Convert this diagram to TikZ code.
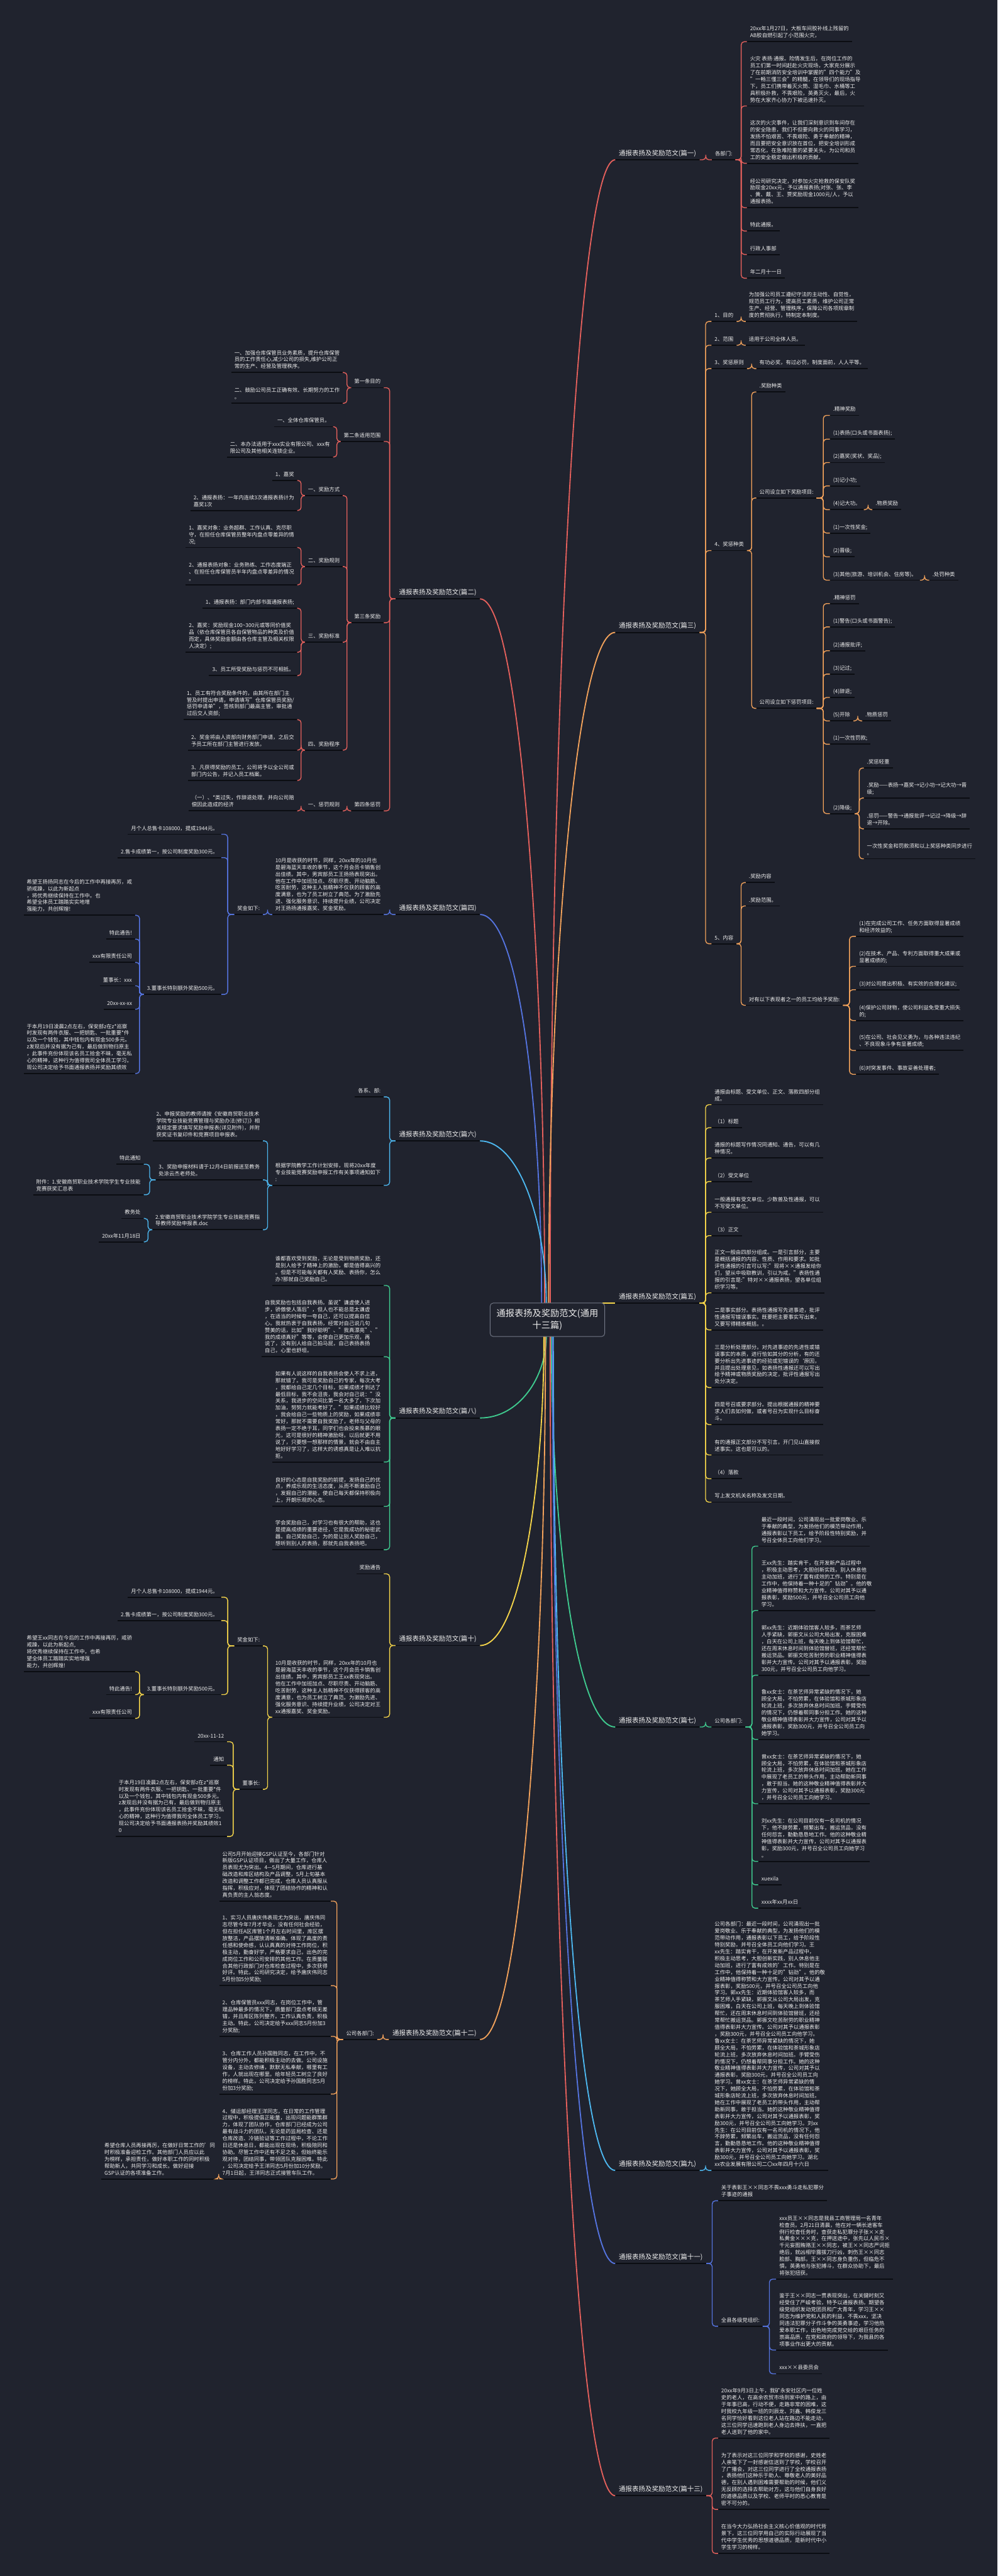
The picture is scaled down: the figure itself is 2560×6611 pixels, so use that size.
\documentclass[tikz,border=0pt]{standalone}
\usepackage{fontspec}
\setmainfont{Noto Sans CJK SC}
\usetikzlibrary{calc}
\definecolor{bg}{HTML}{20232E}
\definecolor{ulc}{HTML}{0B0D12}
\definecolor{cbd}{HTML}{737887}
\definecolor{cred}{HTML}{E4605C}
\definecolor{cora}{HTML}{F2A25B}
\definecolor{cyel}{HTML}{F5D54A}
\definecolor{cgrn}{HTML}{3FCB8F}
\definecolor{ccyn}{HTML}{4DB8F0}
\definecolor{cblu}{HTML}{5574E0}
\definecolor{txt}{HTML}{EEEEEE}
\newcommand\rconn[3]{\draw[#1,conn] (#2.south east) -| ($(#2.south east)!.5!(#3.south west)$) |- (#3.south west);}
\newcommand\lconn[3]{\draw[#1,conn] (#2.south west) -| ($(#2.south west)!.5!(#3.south east)$) |- (#3.south east);}
\begin{document}
\begin{tikzpicture}[x=1pt,y=-1pt,
  ulline/.style={draw=ulc,line width=3pt},
  uline/.style={append after command={\pgfextra{\let\tmpn\tikzlastnode}(\tmpn.south west) edge[ulline] (\tmpn.south east)}},
  tx/.style={text=txt,font=\fontsize{13.5}{17.6}\selectfont,align=left,inner xsep=8pt,inner ysep=5pt,execute at begin node=\strut,execute at end node=\strut,uline},
  rnode/.style={tx,anchor=south west},
  lnode/.style={tx,anchor=south east},
  ttl/.style={text=txt,font=\fontsize{17}{22}\selectfont,inner xsep=9pt,inner ysep=4pt,execute at begin node=\strut,execute at end node=\strut,uline},
  rtit/.style={ttl,anchor=south west},
  ltit/.style={ttl,anchor=south east},
  conn/.style={line width=2.2pt,rounded corners=8pt},
  mainbr/.style={line width=3pt},
]
\fill[bg] (0,0) rectangle (2560,6611);
\useasboundingbox (0,0) rectangle (2560,6611);

% ---------- titles ----------
\node[rtit] (T1) at (1579,410) {通报表扬及奖励范文(篇一)};
\node[rtit] (T3) at (1579,1623) {通报表扬及奖励范文(篇三)};
\node[rtit] (T5) at (1579,3344) {通报表扬及奖励范文(篇五)};
\node[rtit] (T7) at (1579,4432) {通报表扬及奖励范文(篇七)};
\node[rtit] (T9) at (1579,5570) {通报表扬及奖励范文(篇九)};
\node[rtit] (T11) at (1579,5809) {通报表扬及奖励范文(篇十一)};
\node[rtit] (T13) at (1579,6405) {通报表扬及奖励范文(篇十三)};
\node[ltit] (T2) at (1232,1537) {通报表扬及奖励范文(篇二)};
\node[ltit] (T4) at (1232,2347) {通报表扬及奖励范文(篇四)};
\node[ltit] (T6) at (1232,2928) {通报表扬及奖励范文(篇六)};
\node[ltit] (T8) at (1232,3639) {通报表扬及奖励范文(篇八)};
\node[ltit] (T10) at (1232,4223) {通报表扬及奖励范文(篇十)};
\node[ltit] (T12) at (1232,5234) {通报表扬及奖励范文(篇十二)};

% ---------- main branches ----------
\draw[cred,mainbr] (1412,3344) .. controls (1412,1877) and (1479,410) .. (T1.south west);
\draw[cora,mainbr] (1408,3344) .. controls (1408,2483) and (1479,1623) .. (T3.south west);
\draw[cyel,mainbr] (1546,3344) -- (T5.south west);
\draw[cgrn,mainbr] (1415,3430) .. controls (1415,3931) and (1479,4432) .. (T7.south west);
\draw[ccyn,mainbr] (1420,3430) .. controls (1420,4500) and (1479,5570) .. (T9.south west);
\draw[cblu,mainbr] (1418,3430) .. controls (1418,4620) and (1479,5809) .. (T11.south west);
\draw[cred,mainbr] (1412,3430) .. controls (1412,4918) and (1479,6405) .. (T13.south west);
\draw[cred,mainbr] (T2.south east) .. controls (1332,1537) and (1398,2440) .. (1398,3344);
\draw[cblu,mainbr] (T4.south east) .. controls (1332,2347) and (1390,2845) .. (1390,3344);
\draw[ccyn,mainbr] (T6.south east) .. controls (1332,2928) and (1402,3136) .. (1402,3344);
\draw[cgrn,mainbr] (T8.south east) .. controls (1332,3639) and (1402,3534) .. (1402,3430);
\draw[cyel,mainbr] (T10.south east) .. controls (1332,4223) and (1396,3826) .. (1396,3430);
\draw[cora,mainbr] (T12.south east) .. controls (1332,5234) and (1400,4332) .. (1400,3430);

\node[draw=cbd,line width=1.5pt,rounded corners=8pt,fill=bg,minimum width=294pt,minimum height=86pt,align=center,text=txt,font=\fontsize{23}{30}\selectfont,inner sep=0pt] (C) at (1405,3387) {通报表扬及奖励范文(通用\\十三篇)};

% ---------- 篇一 ----------
\node[rnode] (A) at (1827,410) {各部门:};
\node[rnode] (A1) at (1917,107) {20xx年1月27日，大板车间胶补线上残留的\\AB胶自燃引起了小范围火灾，};
\node[rnode] (A2) at (1917,272) {火灾 表扬 通报。险情发生后，在岗位工作的\\员工们第一时间赶赴火灾现场，大家充分展示\\了在前期消防安全培训中掌握的"四个能力"及\\"一畅三懂三会"的精髓，在领导们的现场指导\\下，员工们携带着灭火筒、湿毛巾、水桶等工\\具积极扑救，不畏艰险，英勇灭火，最后，火\\势在大家齐心协力下被迅速扑灭。};
\node[rnode] (A3) at (1917,419) {这次的火灾事件，让我们深刻意识到车间存在\\的安全隐患，我们不但要向救火的同事学习，\\发扬不怕艰苦、不畏艰险、勇于奉献的精神，\\而且要把安全意识放在首位，把安全培训形成\\常态化，在急难险重的紧要关头，为公司和员\\工的安全稳定做出积极的贡献。};
\node[rnode] (A4) at (1917,533) {经公司研究决定，对参加火灾抢救的保安队奖\\励现金20xx元，予以通报表扬;对张、张、李\\、黄、戴、王、贾奖励现金1000元/人，予以\\通报表扬。};
\node[rnode] (A5) at (1917,593) {特此通报。};
\node[rnode] (A6) at (1917,653) {行政人事部};
\node[rnode] (A7) at (1917,714) {年二月十一日};
\rconn{cred}{T1}{A}
\foreach \n in {A1,A2,A3,A4,A5,A6,A7}{\rconn{cred}{A}{\n}}

% ---------- 篇三 ----------
\node[rnode] (B1) at (1826,825) {1、目的};
\node[rnode] (B1a) at (1914,825) {为加强公司员工遵纪守法的主动性、自觉性，\\规范员工行为，提高员工素质，维护公司正常\\生产、经营、管理秩序，保障公司各项规章制\\度的贯彻执行，特制定本制度。};
\node[rnode] (B2) at (1826,886) {2、范围};
\node[rnode] (B2a) at (1914,886) {适用于公司全体人员。};
\node[rnode] (B3) at (1826,946) {3、奖惩原则};
\node[rnode] (B3a) at (1941,946) {有功必奖，有过必罚，制度面前，人人平等。};
\node[rnode] (B4) at (1826,1413) {4、奖惩种类};
\node[rnode] (B41) at (1941,1006) {.奖励种类};
\node[rnode] (B42) at (1941,1278) {公司设立如下奖励项目:};
\node[rnode] (B43) at (1941,1818) {公司设立如下惩罚项目:};
\node[rnode] (B421) at (2130,1066) {.精神奖励};
\node[rnode] (B422) at (2130,1127) {(1)表扬(口头或书面表扬);};
\node[rnode] (B423) at (2130,1187) {(2)嘉奖(奖状、奖品);};
\node[rnode] (B424) at (2130,1247) {(3)记小功;};
\node[rnode] (B425) at (2130,1308) {(4)记大功。};
\node[rnode] (B425a) at (2239,1308) {.物质奖励};
\node[rnode] (B426) at (2130,1368) {(1)一次性奖金;};
\node[rnode] (B427) at (2130,1429) {(2)晋级;};
\node[rnode] (B428) at (2130,1489) {(3)其他(旅游、培训机会、住房等)。};
\node[rnode] (B428a) at (2385,1489) {.处罚种类};
\node[rnode] (B431) at (2130,1549) {.精神惩罚};
\node[rnode] (B432) at (2130,1609) {(1)警告(口头或书面警告);};
\node[rnode] (B433) at (2130,1670) {(2)通报批评;};
\node[rnode] (B434) at (2130,1730) {(3)记过;};
\node[rnode] (B435) at (2130,1790) {(4)辞退;};
\node[rnode] (B436) at (2130,1850) {(5)开除};
\node[rnode] (B436a) at (2213,1850) {.物质惩罚};
\node[rnode] (B437) at (2130,1910) {(1)一次性罚款;};
\node[rnode] (B438) at (2130,2088) {(2)降级;};
\node[rnode] (B4381) at (2217,1971) {.奖惩轻重};
\node[rnode] (B4382) at (2217,2048) {.奖励——表扬→嘉奖→记小功→记大功→晋\\级;};
\node[rnode] (B4383) at (2217,2127) {.惩罚——警告→通报批评→记过→降级→辞\\退→开除。};
\node[rnode] (B4384) at (2217,2204) {一次性奖金和罚款须和以上奖惩种类同步进行\\。};
\node[rnode] (B5) at (1826,2422) {5、内容};
\node[rnode] (B51) at (1914,2265) {.奖励内容};
\node[rnode] (B52) at (1914,2325) {.奖励范围。};
\node[rnode] (B53) at (1914,2580) {对有以下表现者之一的员工均给予奖励:};
\node[rnode] (B531) at (2197,2403) {(1)在完成公司工作、任务方面取得显著成绩\\和经济效益的;};
\node[rnode] (B532) at (2197,2480) {(2)在技术、产品、专利方面取得重大成果或\\显著成绩的;};
\node[rnode] (B533) at (2197,2540) {(3)对公司提出积极、有实效的合理化建议;};
\node[rnode] (B534) at (2197,2619) {(4)保护公司财物，使公司利益免受重大损失\\的;};
\node[rnode] (B535) at (2197,2696) {(5)在公司、社会见义勇为，与各种违法违纪\\、不良现象斗争有显著成绩;};
\node[rnode] (B536) at (2197,2757) {(6)对突发事件、事故妥善处理者;};
\foreach \n in {B1,B2,B3,B4,B5}{\rconn{cora}{T3}{\n}}
\rconn{cora}{B1}{B1a}\rconn{cora}{B2}{B2a}\rconn{cora}{B3}{B3a}
\foreach \n in {B41,B42,B43}{\rconn{cora}{B4}{\n}}
\foreach \n in {B421,B422,B423,B424,B425,B426,B427,B428}{\rconn{cora}{B42}{\n}}
\rconn{cora}{B425}{B425a}\rconn{cora}{B428}{B428a}
\foreach \n in {B431,B432,B433,B434,B435,B436,B437,B438}{\rconn{cora}{B43}{\n}}
\rconn{cora}{B436}{B436a}
\foreach \n in {B4381,B4382,B4383,B4384}{\rconn{cora}{B438}{\n}}
\foreach \n in {B51,B52,B53}{\rconn{cora}{B5}{\n}}
\foreach \n in {B531,B532,B533,B534,B535,B536}{\rconn{cora}{B53}{\n}}

% ---------- 篇五 ----------
\node[rnode] (E1) at (1826,2835) {通报由标题、受文单位、正文、落款四部分组\\成。};
\node[rnode] (E2) at (1826,2894) {（1）标题};
\node[rnode] (E3) at (1826,2972) {通报的标题写作情况同通知、通告，可以有几\\种情况。};
\node[rnode] (E4) at (1826,3032) {（2）受文单位};
\node[rnode] (E5) at (1826,3111) {一般通报有受文单位。少数普及性通报，可以\\不写受文单位。};
\node[rnode] (E6) at (1826,3171) {（3）正文};
\node[rnode] (E7) at (1826,3318) {正文一般由四部分组成。一是引言部分，主要\\是概括通报的内容、性质、作用和要求。如批\\评性通报的引言可以写:"现将××通报发给你\\们，望从中吸取教训，引以为戒。"表扬性通\\报的引言是:"特对××通报表扬，望各单位组\\织学习等。};
\node[rnode] (E8) at (1826,3413) {二是事实部分。表扬性通报写先进事迹，批评\\性通报写错误事实。既要把主要事实写出来，\\又要写得精练概括。。};
\node[rnode] (E9) at (1826,3561) {三是分析处理部分。对先进事迹的先进性或错\\误事实的本质，进行恰如其分的分析，有的还\\要分析出先进事迹的经验或犯错误的`原因，\\并且提出处理意见，如表扬性通报还可以写出\\给予精神或物质奖励的决定，批评性通报写出\\处分决定。};
\node[rnode] (E10) at (1826,3656) {四是号召或要求部分。提出根据通报的精神要\\求人们去如何做，或者号召为实现什么目标奋\\斗。};
\node[rnode] (E11) at (1826,3734) {有的通报正文部分不写引言。开门见山直接叙\\述事实。这也是可以的。};
\node[rnode] (E12) at (1826,3795) {（4）落款};
\node[rnode] (E13) at (1826,3855) {写上发文机关名称及发文日期。};
\foreach \n in {E1,E2,E3,E4,E5,E6,E7,E8,E9,E10,E11,E12,E13}{\rconn{cyel}{T5}{\n}}

% ---------- 篇七 ----------
\node[rnode] (G) at (1826,4432) {公司各部门:};
\node[rnode] (G1) at (1946,3968) {最近一段时间，公司涌现出一批爱岗敬业、乐\\于奉献的典型，为发扬他们的模范带动作用，\\通报表彰以下员工，给予阶段性特别奖励，并\\号召全体员工向他们学习。};
\node[rnode] (G2) at (1946,4133) {王xx先生：踏实肯干，在开发新产品过程中\\，积极主动思考，大胆创新实践，别人休息他\\主动加班，进行了富有成效的工作。特别是在\\工作中，他保持着一种十足的"钻劲"。他的敬\\业精神值得称赞和大力宣传。公司对其予以通\\报表彰，奖励500元，并号召全公司员工向他\\学习。};
\node[rnode] (G3) at (1946,4299) {郭xx先生：近期体验馆客人较多，而茶艺师\\人手紧缺，郭振文从公司大局出发，克服困难\\，白天在公司上班，每天晚上到体验馆帮忙，\\还在周末休息时间到体验馆替班，还经常帮忙\\搬运货品。郭振文吃苦耐劳的职业精神值得表\\彰并大力宣传。公司对其予以通报表彰，奖励\\300元，并号召全公司员工向他学习。};
\node[rnode] (G4) at (1946,4464) {鲁xx女士：在茶艺师异常紧缺的情况下，她\\顾全大局，不怕劳累，在体验馆和茶城形象店\\轮流上班，多次放弃休息时间加班。手臂受伤\\的情况下，仍想着帮同事分担工作。她的这种\\敬业精神值得表彰并大力宣传，公司对其予以\\通报表彰，奖励300元，并号召全公司员工向\\她学习。};
\node[rnode] (G5) at (1946,4629) {曾xx女士：在茶艺师异常紧缺的情况下，她\\顾全大局，不怕劳累，在体验馆和茶城形象店\\轮流上班，多次放弃休息时间加班。她在工作\\中展现了老员工的带头作用，主动帮助新同事\\，敢于担当。她的这种敬业精神值得表彰并大\\力宣传，公司对其予以通报表彰，奖励300元\\，并号召全公司员工向她学习。};
\node[rnode] (G6) at (1946,4777) {刘xx先生：在公司目前仅有一名司机的情况\\下，他不辞劳累，频繁出车，搬运货品，没有\\任何怨言，勤勤恳恳地工作。他的这种敬业精\\神值得表彰并大力宣传，公司对其予以通报表\\彰，奖励300元，并号召全公司员工向她学习\\。};
\node[rnode] (G7) at (1946,4837) {xuexila};
\node[rnode] (G8) at (1946,4897) {xxxx年xx月xx日};
\rconn{cgrn}{T7}{G}
\foreach \n in {G1,G2,G3,G4,G5,G6,G7,G8}{\rconn{cgrn}{G}{\n}}

% ---------- 篇九 ----------
\node[rnode] (H) at (1826,5570) {公司各部门：最近一段时间，公司涌现出一批\\爱岗敬业、乐于奉献的典型，为发扬他们的模\\范带动作用，通报表彰以下员工，给予阶段性\\特别奖励，并号召全体员工向他们学习。王\\xx先生：踏实肯干，在开发新产品过程中，\\积极主动思考，大胆创新实践，别人休息他主\\动加班，进行了富有成效的'工作。特别是在\\工作中，他保持着一种十足的"钻劲"。他的敬\\业精神值得称赞和大力宣传。公司对其予以通\\报表彰，奖励500元，并号召全公司员工向他\\学习。郭xx先生：近期体验馆客人较多，而\\茶艺师人手紧缺，郭振文从公司大局出发，克\\服困难，白天在公司上班，每天晚上到体验馆\\帮忙，还在周末休息时间到体验馆替班，还经\\常帮忙搬运货品。郭振文吃苦耐劳的职业精神\\值得表彰并大力宣传。公司对其予以通报表彰\\，奖励300元，并号召全公司员工向他学习。\\鲁xx女士：在茶艺师异常紧缺的情况下，她\\顾全大局，不怕劳累，在体验馆和茶城形象店\\轮流上班，多次放弃休息时间加班。手臂受伤\\的情况下，仍想着帮同事分担工作。她的这种\\敬业精神值得表彰并大力宣传，公司对其予以\\通报表彰，奖励300元，并号召全公司员工向\\她学习。曾xx女士：在茶艺师异常紧缺的情\\况下，她顾全大局，不怕劳累，在体验馆和茶\\城形象店轮流上班，多次放弃休息时间加班。\\她在工作中展现了老员工的带头作用，主动帮\\助新同事，敢于担当。她的这种敬业精神值得\\表彰并大力宣传，公司对其予以通报表彰，奖\\励300元，并号召全公司员工向她学习。刘xx\\先生：在公司目前仅有一名司机的情况下，他\\不辞劳累，频繁出车，搬运货品，没有任何怨\\言，勤勤恳恳地工作。他的这种敬业精神值得\\表彰并大力宣传，公司对其予以通报表彰，奖\\励300元，并号召全公司员工向她学习。湖北\\xx农业发展有限公司二〇xx年四月十六日};
\rconn{ccyn}{T9}{H}

% ---------- 篇十一 ----------
\node[rnode] (K1) at (1843,5648) {关于表彰王××同志不畏xxx勇斗走私犯罪分\\子事迹的通报};
\node[rnode] (K2) at (1843,5970) {全县各级党组织:};
\node[rnode] (K21) at (1992,5849) {xxx员王××同志是我县工商管理局一名青年\\检查员。2月21日清晨，他在对一辆长途客车\\例行检查任务时，查获走私犯罪分子张××走\\私黄金×××克，在押送途中，张先以人民币×\\千元妄图贿赂王××同志，被王××同志严词拒\\绝后，就凶相毕露拔刀行凶，刺伤王××同志\\脸部、胸部。王××同志身负重伤，但临危不\\惧，英勇地与张犯搏斗，在群众协助下，最后\\将张犯扭获。};
\node[rnode] (K22) at (1992,6031) {鉴于王××同志一贯表现突出，在关键时刻又\\经受住了严峻考验，特予以通报表扬。期望各\\级党组织发动党团员和广大青年，学习王××\\同志为维护党和人民的利益，不畏xxx，坚决\\同违法犯罪分子作斗争的英勇事迹，学习他热\\爱本职工作，出色地完成党交给的艰巨任务的\\崇高品质，在党和政府的领导下，为我县的各\\项事业作出更大的贡献。};
\node[rnode] (K23) at (1992,6092) {xxx××县委员会};
\rconn{cblu}{T11}{K1}\rconn{cblu}{T11}{K2}
\foreach \n in {K21,K22,K23}{\rconn{cblu}{K2}{\n}}

% ---------- 篇十三 ----------
\node[rnode] (M1) at (1843,6257) {20xx年9月3日上午，我矿永安社区内一位姓\\史的老人，在高余农贸市场到家中的路上，由\\于年事已高，行动不便，走路非常的困难，这\\时我校九年级一班的刘辰龙、刘鑫、韩俊龙三\\名同学恰好看到这位老人站在路边不能走动，\\这三位同学迅速跑到老人身边去搀扶，一直把\\老人送到了他的家中。};
\node[rnode] (M2) at (1843,6440) {为了表示对这三位同学和学校的感谢，史姓老\\人亲笔下了一封感谢信送到了学校，学校召开\\了广播会，对这三位同学进行了全校通报表扬\\，表扬他们这种乐于助人、尊敬老人的美好品\\德，在别人遇到困难需要帮助的时候，他们义\\无反顾的选择去帮助对方，这与他们自身良好\\的道德品质以及学校、老师平时的悉心教育是\\密不可分的。};
\node[rnode] (M3) at (1843,6553) {在当今大力弘扬社会主义核心价值观的时代背\\景下，这三位同学用自己的实际行动展现了当\\代中学生优秀的思想道德品质，是新时代中小\\学生学习的榜样。};
\foreach \n in {M1,M2,M3}{\rconn{cred}{T13}{\n}}

% ---------- 篇二 ----------
\node[lnode] (P1) at (985,995) {第一条目的};
\node[lnode] (P11) at (880,956) {一、加强仓库保管员业务素质，提升仓库保管\\员的工作责任心,减少公司的损失,维护公司正\\常的生产、经营及管理秩序。};
\node[lnode] (P12) at (880,1035) {二、鼓励公司员工正确有效、长期努力的工作\\。};
\node[lnode] (P2) at (985,1133) {第二条适用范围};
\node[lnode] (P21) at (855,1095) {一、全体仓库保管员。};
\node[lnode] (P22) at (855,1173) {二、本办法适用于xxx实业有限公司、xxx有\\限公司及其他相关连锁企业。};
\node[lnode] (P3) at (985,1598) {第三条奖励};
\node[lnode] (P31) at (880,1272) {一、奖励方式};
\node[lnode] (P311) at (763,1233) {1、嘉奖};
\node[lnode] (P312) at (763,1310) {2、通报表扬：一年内连续3次通报表扬计为\\嘉奖1次};
\node[lnode] (P32) at (880,1454) {二、奖励规则};
\node[lnode] (P321) at (763,1405) {1、嘉奖对象：业务超群、工作认真、克尽职\\守，在担任仓库保管员整年内盘点零差异的情\\况;};
\node[lnode] (P322) at (763,1501) {2、通报表扬对象：业务熟练、工作态度端正\\、在担任仓库保管员半年内盘点零差异的情况\\。};
\node[lnode] (P33) at (880,1648) {三、奖励标准};
\node[lnode] (P331) at (763,1561) {1、通报表扬：部门内部书面通报表扬;};
\node[lnode] (P332) at (763,1674) {2、嘉奖：奖励现金100\textasciitilde300元或等同价值奖\\品（依仓库保管员各自保管物品的种类及价值\\而定，具体奖励金额由各仓库主管及相关权限\\人决定）;};
\node[lnode] (P333) at (763,1734) {3、员工所受奖励与惩罚不可相抵。};
\node[lnode] (P34) at (880,1925) {四、奖励程序};
\node[lnode] (P341) at (763,1847) {1、员工有符合奖励条件的，由其所在部门主\\管及时提出申请，申请填写"仓库保管员奖励/\\惩罚申请单"，签核到部门最高主管，审批通\\过后交人资部;};
\node[lnode] (P342) at (763,1925) {2、奖金将由人资部向财务部门申请，之后交\\予员工所在部门主管进行发放。};
\node[lnode] (P343) at (763,2003) {3、凡获得奖励的员工，公司将予以全公司或\\部门内公告，并记入员工档案。};
\node[lnode] (P4) at (985,2081) {第四条惩罚};
\node[lnode] (P41) at (880,2081) {一、惩罚规则};
\node[lnode] (P411) at (763,2081) {（一）、*类过失，作辞退处理，并向公司赔\\偿因此造成的经济};
\foreach \n in {P1,P2,P3,P4}{\lconn{cred}{T2}{\n}}
\lconn{cred}{P1}{P11}\lconn{cred}{P1}{P12}
\lconn{cred}{P2}{P21}\lconn{cred}{P2}{P22}
\foreach \n in {P31,P32,P33,P34}{\lconn{cred}{P3}{\n}}
\lconn{cred}{P31}{P311}\lconn{cred}{P31}{P312}
\lconn{cred}{P32}{P321}\lconn{cred}{P32}{P322}
\foreach \n in {P331,P332,P333}{\lconn{cred}{P33}{\n}}
\foreach \n in {P341,P342,P343}{\lconn{cred}{P34}{\n}}
\lconn{cred}{P4}{P41}\lconn{cred}{P41}{P411}

% ---------- 篇四 ----------
\node[lnode] (Q1) at (985,2347) {10月是收获的时节，同样，20xx年的10月也\\是碧海蓝天丰收的季节，这个月会员卡销售创\\出佳绩。其中，男宾部员工王扬扬表现突出。\\他在工作中加班加点、尽职尽责、开动脑筋、\\吃苦耐劳，这种主人翁精神不仅获的顾客的高\\度满意，也为了员工树立了典范。为了激励先\\进、强化服务意识、持续提升业绩，公司决定\\对王扬扬通报嘉奖、奖金奖励。};
\node[lnode] (Q2) at (675,2347) {奖金如下:};
\node[lnode] (Q21) at (568,2141) {月个人总售卡108000，提成1944元。};
\node[lnode] (Q22) at (568,2201) {2.售卡成绩第一，按公司制度奖励300元。};
\node[lnode] (Q23) at (568,2552) {3.董事长特别额外奖励500元。};
\node[lnode] (Q231) at (347,2349) {希望王扬扬同志在今后的工作中再接再厉，戒\\骄戒躁，以此为新起点\\，将优秀继续保持在工作中。也\\希望全体员工踏踏实实地增\\强能力，共创辉煌!};
\node[lnode] (Q232) at (347,2410) {特此通告!};
\node[lnode] (Q233) at (347,2470) {xxx有限责任公司};
\node[lnode] (Q234) at (347,2530) {董事长：xxx};
\node[lnode] (Q235) at (347,2590) {20xx-xx-xx};
\node[lnode] (Q236) at (347,2755) {于本月19日凌晨2点左右，保安部z在z*巡察\\时发现有两件衣服、一把钥匙、一批重要*件\\以及一个钱包，其中钱包内有现金500多元。\\z发现后并没有据为己有，最后做到物归原主\\，此事件充份体现该名员工拾金不昧，毫无私\\心的精神，这种行为值得我司全体员工学习。\\现公司决定给予书面通报表扬并奖励其绩效};
\lconn{cblu}{T4}{Q1}\lconn{cblu}{Q1}{Q2}
\foreach \n in {Q21,Q22,Q23}{\lconn{cblu}{Q2}{\n}}
\foreach \n in {Q231,Q232,Q233,Q234,Q235,Q236}{\lconn{cblu}{Q23}{\n}}

% ---------- 篇六 ----------
\node[lnode] (S1) at (985,2815) {各系、部:};
\node[lnode] (S2) at (985,3042) {根据学院教学工作计划安排，现将20xx年度\\专业技能竞赛奖励申报工作有关事项通知如下\\:};
\node[lnode] (S21) at (675,2928) {2、申报奖励的教师请按《安徽商贸职业技术\\学院专业技能竞赛管理与奖励办法(修订)》相\\关规定要求填写奖励申报表(详见附件)，并附\\获奖证书复印件和竞赛项目申报表。};
\node[lnode] (S22) at (675,3028) {3、奖励申报材料请于12月4日前报送至教务\\处涂云杰老师处。};
\node[lnode] (S221) at (369,2988) {特此通知};
\node[lnode] (S222) at (369,3066) {附件：1.安徽商贸职业技术学院学生专业技能\\竞赛获奖汇总表};
\node[lnode] (S23) at (675,3156) {2.安徽商贸职业技术学院学生专业技能竞赛指\\导教师奖励申报表.doc};
\node[lnode] (S231) at (369,3127) {教务处};
\node[lnode] (S232) at (369,3187) {20xx年11月18日};
\lconn{ccyn}{T6}{S1}\lconn{ccyn}{T6}{S2}
\foreach \n in {S21,S22,S23}{\lconn{ccyn}{S2}{\n}}
\lconn{ccyn}{S22}{S221}\lconn{ccyn}{S22}{S222}
\lconn{ccyn}{S23}{S231}\lconn{ccyn}{S23}{S232}

% ---------- 篇八 ----------
\node[lnode] (U1) at (985,3299) {谁都喜欢受到奖励，无论是受到物质奖励，还\\是别人给予了精神上的激励，都是值得高兴的\\。但是不可能每天都有人奖励、表扬你，怎么\\办?那就自己奖励自己。};
\node[lnode] (U2) at (985,3482) {自我奖励也包括自我表扬。虽说"谦虚使人进\\步，骄傲使人落后"，但人也不能总是太谦虚\\，在适当的时候夸一夸自己，还可以提高自信\\心。我就热衷于自我表扬，经常对自己说几句\\赞美的话，比如"我好聪明"、"我真漂亮"、"\\我的成绩真好"等等，会使自己更加乐观，再\\说了，没有别人给自己拍马屁，自己表扬表扬\\自己，心里也舒坦。};
\node[lnode] (U3) at (985,3752) {如果有人说这样的自我表扬会使人不求上进，\\那就错了。我可是奖励自己的专家，每次大考\\，我都给自己定几个目标，如果成绩才到达了\\最低目标，我不会沮丧，我会对自己说："没\\关系，我进步的空间比第一名大多了，下次加\\加油，努努力就能考好了。"如果成绩比较好\\，我会给自己一些物质上的奖励，如果成绩非\\常好，那就不需要自我奖励了，老师与父母的\\表扬一定不绝于耳，同学们也会投来羡慕的眼\\光，这可是很好的精神激励呀。以后就更不用\\说了，只要想一想那样的情景，就会不由自主\\地好好学习了，这样大的诱惑真是让人难以抗\\拒。};
\node[lnode] (U4) at (985,3866) {良好的心态是自我奖励的前提，发扬自己的优\\点，养成乐观的生活态度，从而不断激励自己\\，发掘自己的潜能，使自己每天都保持积极向\\上，开朗乐观的心态。};
\node[lnode] (U5) at (985,3977) {学会奖励自己，对学习也有很大的帮助，这也\\是提高成绩的重要途径，它是我成功的秘密武\\器。自己奖励自己，为的是让别人奖励自己，\\想听到别人的表扬，那就先自我表扬吧。};
\foreach \n in {U1,U2,U3,U4,U5}{\lconn{cgrn}{T8}{\n}}

% ---------- 篇十 ----------
\node[lnode] (V1) at (985,4039) {奖励通告};
\node[lnode] (V2) at (985,4407) {10月是收获的时节，同样，20xx年的10月也\\是碧海蓝天丰收的季节，这个月会员卡销售创\\出佳绩。其中，男宾部员工王xx表现突出。\\他在工作中加班加点、尽职尽责、开动脑筋、\\吃苦耐劳，这种主人翁精神不仅获得顾客的高\\度满意，也为员工树立了典范。为激励先进、\\强化服务意识、持续提升业绩，公司决定对王\\xx通报嘉奖、奖金奖励。};
\node[lnode] (V21) at (675,4224) {奖金如下:};
\node[lnode] (V211) at (568,4099) {月个人总售卡108000，提成1944元。};
\node[lnode] (V212) at (568,4159) {2.售卡成绩第一，按公司制度奖励300元。};
\node[lnode] (V213) at (568,4349) {3.董事长特别额外奖励500元。};
\node[lnode] (V2131) at (347,4290) {希望王xx同志在今后的工作中再接再厉，戒骄\\戒躁，以此为新起点,\\将优秀继续保持在工作中，也希\\望全体员工踏踏实实地增强\\能力，共创辉煌!};
\node[lnode] (V2132) at (347,4349) {特此通告!};
\node[lnode] (V2133) at (347,4410) {xxx有限责任公司};
\node[lnode] (V22) at (675,4592) {董事长:};
\node[lnode] (V221) at (583,4470) {20xx-11-12};
\node[lnode] (V222) at (583,4530) {通知};
\node[lnode] (V223) at (583,4713) {于本月19日凌晨2点左右，保安部z在z*巡察\\时发现有两件衣服、一把钥匙、一批重要*件\\以及一个钱包，其中钱包内有现金500多元。\\z发现后并没有据为己有，最后做到物归原主\\，此事件充份体现该名员工拾金不昧，毫无私\\心的精神，这种行为值得我司全体员工学习。\\现公司决定给予书面通报表扬并奖励其绩效1\\0};
\lconn{cyel}{T10}{V1}\lconn{cyel}{T10}{V2}
\lconn{cyel}{V2}{V21}\lconn{cyel}{V2}{V22}
\foreach \n in {V211,V212,V213}{\lconn{cyel}{V21}{\n}}
\foreach \n in {V2131,V2132,V2133}{\lconn{cyel}{V213}{\n}}
\foreach \n in {V221,V222,V223}{\lconn{cyel}{V22}{\n}}

% ---------- 篇十二 ----------
\node[lnode] (W) at (968,5234) {公司各部门:};
\node[lnode] (W1) at (849,4879) {公司5月开始迎接GSP认证至今，各部门针对\\新版GSP认证项目，做出了大量工作，仓库人\\员表现尤为突出。4—5月期间，仓库进行基\\础改造和库区结构及产品调整，5月上旬基本\\改造和调整工作都已完成，仓库人员认真服从\\指挥，积极应对，体现了团结协作的精神和认\\真负责的主人翁态度。};
\node[lnode] (W2) at (849,5096) {1、实习人员唐庆伟表现尤为突出，唐庆伟同\\志尽管今年7月才毕业，没有任何社会经验，\\但在担任A区库管1个月左右时间里，库区摆\\放整洁，产品摆放清晰准确。体现了高度的责\\任感和使命感，认认真真的对待工作岗位，积\\极主动，勤奋好学，严格要求自己，出色的完\\成岗位工作和公司安排的其他工作。在质量联\\合其他行政部门对仓库检查过程中，多次获得\\好评。特此，公司研究决定，给予唐庆伟同志\\5月份加5分奖励;};
\node[lnode] (W3) at (849,5226) {2、仓库保管员xxx同志，在岗位工作中，管\\理品种最多的情况下，质量部门盘点考核无差\\错，并且库区陈列整齐。工作认真负责，积极\\主动。特此，公司决定给予xxx同志5月份加3\\分奖励;};
\node[lnode] (W4) at (849,5374) {3、仓库工作人员孙国胜同志，在工作中，不\\管分内分外，都能积极主动的去做。公司设施\\设备，主动去修缮，默默无私奉献，哪里有工\\作，人就出现在哪里。给年轻员工树立了良好\\的榜样。特此，公司决定给予孙国胜同志5月\\份加3分奖励;};
\node[lnode] (W5) at (849,5592) {4、储运部经理王洋同志，在日常的工作管理\\过程中，积极提倡正能量，出现问题能群策群\\力，体现了团队协作，仓库部门已经成为公司\\最有战斗力的团队。无论是药监局检查、还是\\仓库改造、冷链验证等工作过程中，不论工作\\日还是休息日，都能出现在现场，积极陪同和\\协助。尽管工作中还有不足之处，但始终能乐\\观对待，团结同事，带领团队克服困难。特此\\，公司决定给予王洋同志5月份加10分奖励。\\7月1日起，王洋同志正式接管车队工作。};
\node[lnode] (W51) at (560,5592) {希望仓库人员再接再厉，在做好日常工作的'同\\时积极准备迎检工作。其他部门人员应以此\\为榜样，承担责任，做好本职工作的同时积极\\帮助新人，共同学习和成长。做好迎接\\GSP认证的各项准备工作。};
\lconn{cora}{T12}{W}
\foreach \n in {W1,W2,W3,W4,W5}{\lconn{cora}{W}{\n}}
\lconn{cora}{W5}{W51}
\end{tikzpicture}
\end{document}
